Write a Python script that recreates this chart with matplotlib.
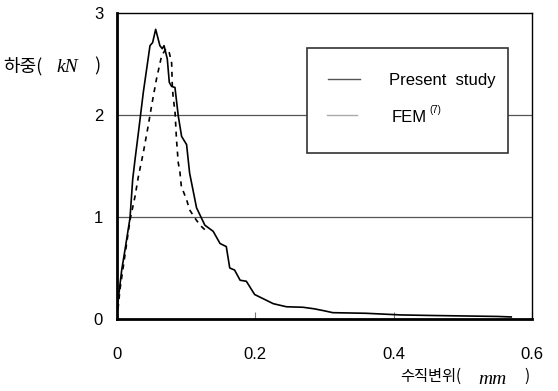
import matplotlib.pyplot as plt
from matplotlib.lines import Line2D
from matplotlib.patches import Rectangle

# Present study (solid)
present_x = [0, 0.0005, 0.0068, 0.0116, 0.0188, 0.0227, 0.026, 0.031, 0.038, 0.0477,
             0.0515, 0.0559, 0.062, 0.0654, 0.068, 0.0727, 0.0756, 0.079, 0.0838, 0.0886,
             0.0934, 0.1006, 0.105, 0.115, 0.127, 0.139, 0.149, 0.158, 0.163, 0.170,
             0.178, 0.187, 0.199, 0.211, 0.226, 0.245, 0.269, 0.285, 0.300, 0.312,
             0.360, 0.410, 0.450, 0.500, 0.550, 0.570]
present_y = [0, 0.12, 0.48, 0.68, 0.99, 1.37, 1.56, 1.83, 2.22, 2.68,
             2.71, 2.84, 2.68, 2.65, 2.68, 2.55, 2.32, 2.28, 2.27, 1.99,
             1.79, 1.71, 1.43, 1.09, 0.92, 0.86, 0.74, 0.71, 0.50, 0.48,
             0.38, 0.37, 0.24, 0.20, 0.15, 0.12, 0.115, 0.10, 0.08, 0.062,
             0.056, 0.04, 0.035, 0.03, 0.025, 0.02]

# FEM (dashed)
fem_x = [0, 0.0043, 0.0116, 0.0188, 0.026, 0.031, 0.038, 0.045, 0.050, 0.057,
         0.0645, 0.0708, 0.0756, 0.079, 0.080, 0.081, 0.084, 0.086, 0.0886, 0.091,
         0.093, 0.1006, 0.105, 0.1126, 0.12, 0.1295]
fem_y = [0, 0.29, 0.63, 0.97, 1.20, 1.40, 1.63, 1.89, 2.09, 2.35,
         2.58, 2.65, 2.61, 2.51, 2.28, 2.19, 2.02, 1.76, 1.53, 1.44,
         1.30, 1.17, 1.07, 0.99, 0.92, 0.86]

x_ticks = [0, 0.2, 0.4, 0.6]
x_tick_labels = ['0', '0.2', '0.4', '0.6']
y_ticks = [0, 1, 2, 3]

sans = 'Liberation Sans'
kr = 'Noto Sans CJK KR'
serif = 'Liberation Serif'

fig = plt.figure(figsize=(5.58, 3.91), dpi=100)
ax = fig.add_axes([117 / 558, 72 / 391, 415 / 558, 306 / 391])

# grid lines at 1 and 2
for g in [1, 2]:
    ax.axhline(g, color='#555555', lw=0.9, zorder=1)

ax.plot(present_x, present_y, color='black', lw=1.2, zorder=3)
ax.plot(fem_x, fem_y, color='black', lw=1.2, dashes=(3, 3), zorder=3)

ax.set_xlim(0, 0.6)
ax.set_ylim(0, 3)
ax.set_xticks(x_ticks)
ax.set_xticklabels(x_tick_labels, fontfamily=sans, fontsize=12)
ax.set_yticks(y_ticks)
ax.set_yticklabels([str(v) for v in y_ticks], fontfamily=sans, fontsize=12)
ax.tick_params(axis='x', direction='in', length=5, color='#777777', pad=20)
ax.tick_params(axis='y', length=0, pad=10)

ax.spines['left'].set_linewidth(2.0)
ax.spines['bottom'].set_linewidth(2.0)
ax.spines['top'].set_linewidth(1.0)
ax.spines['right'].set_linewidth(1.0)

# legend box
lx0, ly0 = (307 - 117) / 415, (319 - 153) / 306
lw_, lh_ = (508 - 307) / 415, (153 - 48) / 306
ax.add_patch(Rectangle((lx0, ly0), lw_, lh_, transform=ax.transAxes,
                       facecolor='white', edgecolor='#333333', lw=1.2, zorder=4))
ax.add_line(Line2D([(328 - 117) / 415, (360 - 117) / 415], [(319 - 79) / 306] * 2,
                   transform=ax.transAxes, color='#555555', lw=1.0, zorder=5))
ax.add_line(Line2D([(327 - 117) / 415, (357 - 117) / 415], [(319 - 115) / 306] * 2,
                   transform=ax.transAxes, color='#aaaaaa', lw=1.0, zorder=5))
ax.text((389 - 117) / 415, (319 - 81) / 306, 'Present  study', transform=ax.transAxes,
        fontfamily=sans, fontsize=12, va='center', ha='left', zorder=6)
ax.text((392 - 117) / 415, (319 - 118) / 306, 'FEM', transform=ax.transAxes,
        fontfamily=sans, fontsize=12, va='center', ha='left', zorder=6)
ax.text((429 - 117) / 415, (319 - 110) / 306, '(7)', transform=ax.transAxes,
        fontfamily=sans, fontsize=7, va='center', ha='left', zorder=6)

# y label
fig.text(3 / 558, 1 - 71 / 391, '하중(', fontfamily=kr, fontsize=13, va='baseline', ha='left')
fig.text(56 / 558, 1 - 72 / 391, 'kN', fontfamily=serif, fontstyle='italic',
         fontsize=14, va='baseline', ha='left')
fig.text(94 / 558, 1 - 71 / 391, ')', fontfamily=kr, fontsize=13, va='baseline', ha='left')

# x label
fig.text(400 / 558, 1 - 381 / 391, '수직변위(', fontfamily=kr, fontsize=11, va='baseline', ha='left')
fig.text(478 / 558, 1 - 384 / 391, 'mm', fontfamily=serif, fontstyle='italic',
         fontsize=14, va='baseline', ha='left')
fig.text(524 / 558, 1 - 381 / 391, ')', fontfamily=kr, fontsize=11, va='baseline', ha='left')

fig.savefig('out.png', dpi=100)
